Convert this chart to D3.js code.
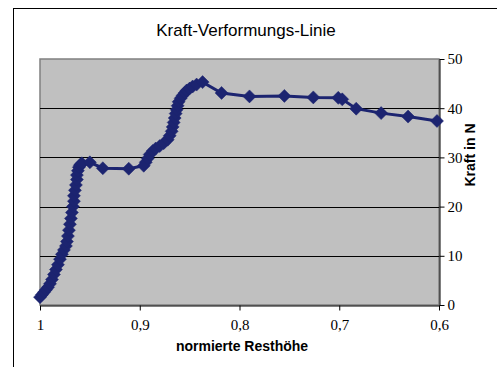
<!DOCTYPE html>
<html><head><meta charset="utf-8">
<script src="https://cdn.jsdelivr.net/npm/d3@7"></script>
<style>body{margin:0;background:#fff}svg{display:block}</style>
</head><body><svg id="c" width="497" height="367"></svg>
<script>
const resthoehe = [1.000,0.998,0.996,0.994,0.992,0.990,0.988,0.986,0.984,0.982,0.980,0.978,0.976,0.974,0.973,0.972,0.971,0.970,0.969,0.968,0.967,0.966,0.966,0.965,0.964,0.963,0.963,0.962,0.961,0.960,0.959,0.958,
 0.950,0.937,0.911,0.896,
 0.894,0.892,0.890,0.887,0.884,0.880,0.876,0.872,0.870,0.868,0.867,0.866,0.865,0.864,0.863,0.862,0.861,0.859,0.857,0.855,0.853,0.850,0.847,0.843,0.837,
 0.818,0.790,0.755,0.726,0.701,0.697,0.683,0.658,0.631,0.602];
const kraft = [1.6,2.1,2.6,3.1,3.6,4.3,5.2,6.2,7.2,8.2,9.3,10.3,11.2,12.0,12.9,14.0,15.2,16.4,17.6,18.8,20.0,21.1,22.2,23.3,24.4,25.5,26.4,27.3,28.0,28.4,28.6,28.8,
 29.0,27.8,27.7,28.3,
 29.0,29.8,30.6,31.3,31.8,32.3,32.9,33.6,34.4,35.3,36.2,37.1,38.0,38.9,39.7,40.5,41.3,42.0,42.6,43.1,43.6,44.0,44.4,44.8,45.3,
 43.1,42.4,42.5,42.2,42.1,41.8,39.9,39.0,38.3,37.4];
const xTicks = [1,0.9,0.8,0.7,0.6];
const xTickLabels = ["1","0,9","0,8","0,7","0,6"];
const yTicks = [0,10,20,30,40,50];

const svg = d3.select("#c");
const L=40,R=439,T=59,B=305;
const x = d3.scaleLinear().domain([1,0.6]).range([L,R]);
const y = d3.scaleLinear().domain([0,50]).range([B,T]);

svg.append("rect").attr("x",13.5).attr("y",8.5).attr("width",520).attr("height",400)
  .attr("fill","#fff").attr("stroke","#000").attr("stroke-width",1);

svg.append("text").attr("x",246).attr("y",36).attr("text-anchor","middle")
  .attr("font-family","Liberation Sans, Arial, sans-serif").attr("font-size",17)
  .text("Kraft-Verformungs-Linie");

svg.append("rect").attr("x",L).attr("y",T).attr("width",R-L).attr("height",B-T)
  .attr("fill","#c0c0c0").attr("stroke","#808080").attr("stroke-width",1.5);

svg.append("g").selectAll("line").data(yTicks.filter(d=>d>0&&d<50)).join("line")
  .attr("x1",L).attr("x2",R).attr("y1",d=>Math.round(y(d))+0.5).attr("y2",d=>Math.round(y(d))+0.5)
  .attr("stroke","#000").attr("stroke-width",1);

const ya = svg.append("g").attr("transform",`translate(${R+0.5},0)`)
  .call(d3.axisRight(y).tickValues(yTicks).tickSize(5).tickSizeOuter(0).tickPadding(3));
ya.select(".domain").attr("stroke","#000");
ya.selectAll("text").attr("font-family","Liberation Serif, Times New Roman, serif").attr("font-size",15).attr("fill","#000");

const xa = svg.append("g").attr("transform",`translate(0,${B+0.5})`)
  .call(d3.axisBottom(x).tickValues(xTicks).tickFormat((d,i)=>xTickLabels[i]).tickSize(5).tickSizeOuter(0).tickPadding(9));
xa.select(".domain").attr("stroke","#000");
xa.selectAll("text").attr("font-family","Liberation Serif, Times New Roman, serif").attr("font-size",15).attr("fill","#000");

svg.append("text").attr("x",242).attr("y",351).attr("text-anchor","middle")
  .attr("font-family","Liberation Sans, Arial, sans-serif").attr("font-size",14).attr("font-weight","bold")
  .text("normierte Resthöhe");
svg.append("text").attr("transform","translate(475,155) rotate(-90)").attr("text-anchor","middle")
  .attr("font-family","Liberation Sans, Arial, sans-serif").attr("font-size",14).attr("font-weight","bold")
  .text("Kraft in N");

const pts = resthoehe.map((v,i)=>[v,kraft[i]]);
const col = "#1c2470";
svg.append("path").datum(pts).attr("fill","none").attr("stroke",col).attr("stroke-width",3)
  .attr("d",d3.line().x(d=>x(d[0])).y(d=>y(d[1])));
svg.append("g").selectAll("path").data(pts).join("path")
  .attr("transform",d=>`translate(${x(d[0])},${y(d[1])})`)
  .attr("d","M0,-6.5L6.5,0L0,6.5L-6.5,0Z").attr("fill",col).attr("stroke",col).attr("stroke-width",0.5);
</script></body></html>
